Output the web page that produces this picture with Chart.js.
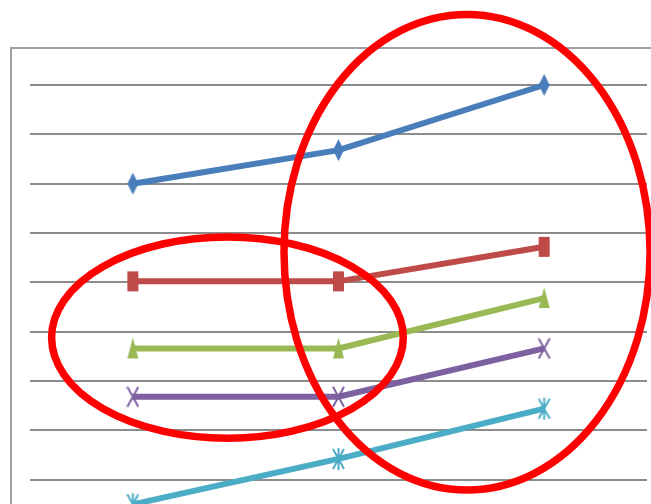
<!DOCTYPE html>
<html lang="en">
<head>
  <meta charset="UTF-8" />
  <title>Line chart</title>
  <script src="https://cdn.jsdelivr.net/npm/chart.js"></script>
  <style>
    html, body { margin: 0; padding: 0; background: #fff; overflow: hidden; width: 651px; height: 504px; }
    .frame { position: absolute; left: 10px; top: 47px; width: 700px; height: 520px; border-left: 2px solid #a0a0a0; border-top: 2px solid #a0a0a0; }
    #chart { position: absolute; left: 0; top: 0; }
  </style>
</head>
<body>
  <div class="frame"></div>
  <canvas id="chart" width="670" height="560"></canvas>

  <script>
    const categories = ['1', '2', '3'];
    const series1 = [7, 7.68, 9];
    const series2 = [5.02, 5.02, 5.72];
    const series3 = [3.66, 3.66, 4.68];
    const series4 = [2.68, 2.68, 3.66];
    const series5 = [0.5, 1.42, 2.44];
    const yTicks = [0, 1, 2, 3, 4, 5, 6, 7, 8, 9];

    // highlight rings, in category index / value units
    const rings = [
      { x: 0.46, y: 3.88, rx: 0.855, ry: 2.04 },
      { x: 1.625, y: 5.61, rx: 0.89, ry: 4.82 }
    ];

    // tall, narrow marker glyphs
    function marker(shape, color) {
      const w = 13, h = 24;
      const c = document.createElement('canvas');
      c.width = w; c.height = h;
      const g = c.getContext('2d');
      g.fillStyle = color;
      g.strokeStyle = color;
      g.lineWidth = 2;
      g.beginPath();
      if (shape === 'diamond') {
        g.moveTo(w / 2, 1); g.lineTo(w - 1, h / 2); g.lineTo(w / 2, h - 1); g.lineTo(1, h / 2);
        g.closePath(); g.fill();
      } else if (shape === 'square') {
        g.fillRect(1, 2, w - 2, h - 4);
      } else if (shape === 'triangle') {
        g.moveTo(w / 2, 1); g.lineTo(w - 1, h - 2); g.lineTo(1, h - 2);
        g.closePath(); g.fill();
      } else if (shape === 'cross') {
        g.moveTo(1, 2); g.lineTo(w - 1, h - 2);
        g.moveTo(w - 1, 2); g.lineTo(1, h - 2);
        g.stroke();
      } else {
        g.moveTo(1, 2); g.lineTo(w - 1, h - 2);
        g.moveTo(w - 1, 2); g.lineTo(1, h - 2);
        g.moveTo(w / 2, 1); g.lineTo(w / 2, h - 1);
        g.stroke();
      }
      return c;
    }

    const ringPlugin = {
      id: 'rings',
      afterDraw(chart) {
        const { ctx, scales: { x, y } } = chart;
        const unitX = x.getPixelForValue(1) - x.getPixelForValue(0);
        const unitY = y.getPixelForValue(0) - y.getPixelForValue(1);
        ctx.save();
        ctx.strokeStyle = '#ff0000';
        ctx.lineWidth = 7.5;
        rings.forEach(r => {
          ctx.beginPath();
          ctx.ellipse(x.getPixelForValue(r.x), y.getPixelForValue(r.y), r.rx * unitX, r.ry * unitY, 0, 0, Math.PI * 2);
          ctx.stroke();
        });
        ctx.restore();
      }
    };

    function line(data, color, shape) {
      return {
        data: data,
        borderColor: color,
        backgroundColor: color,
        borderWidth: 6,
        tension: 0,
        pointStyle: marker(shape, color),
        pointRadius: 8,
        clip: false
      };
    }

    new Chart(document.getElementById('chart'), {
      type: 'line',
      data: {
        labels: categories,
        datasets: [
          line(series1, '#4a7ebb', 'diamond'),
          line(series2, '#be4b48', 'square'),
          line(series3, '#98b954', 'triangle'),
          line(series4, '#7d60a0', 'cross'),
          line(series5, '#4bacc6', 'star')
        ]
      },
      options: {
        responsive: false,
        animation: false,
        layout: { padding: { left: 30, top: 85, right: 23, bottom: 23 } },
        plugins: { legend: { display: false }, tooltip: { enabled: false } },
        scales: {
          x: {
            offset: true,
            grid: { display: false },
            border: { display: false },
            ticks: { display: false }
          },
          y: {
            min: 0,
            max: 9,
            afterBuildTicks: axis => { axis.ticks = yTicks.map(v => ({ value: v })); },
            grid: { color: '#8c8c8c', lineWidth: 2, drawTicks: false },
            border: { display: false },
            ticks: { display: false }
          }
        }
      },
      plugins: [ringPlugin]
    });
  </script>
</body>
</html>
